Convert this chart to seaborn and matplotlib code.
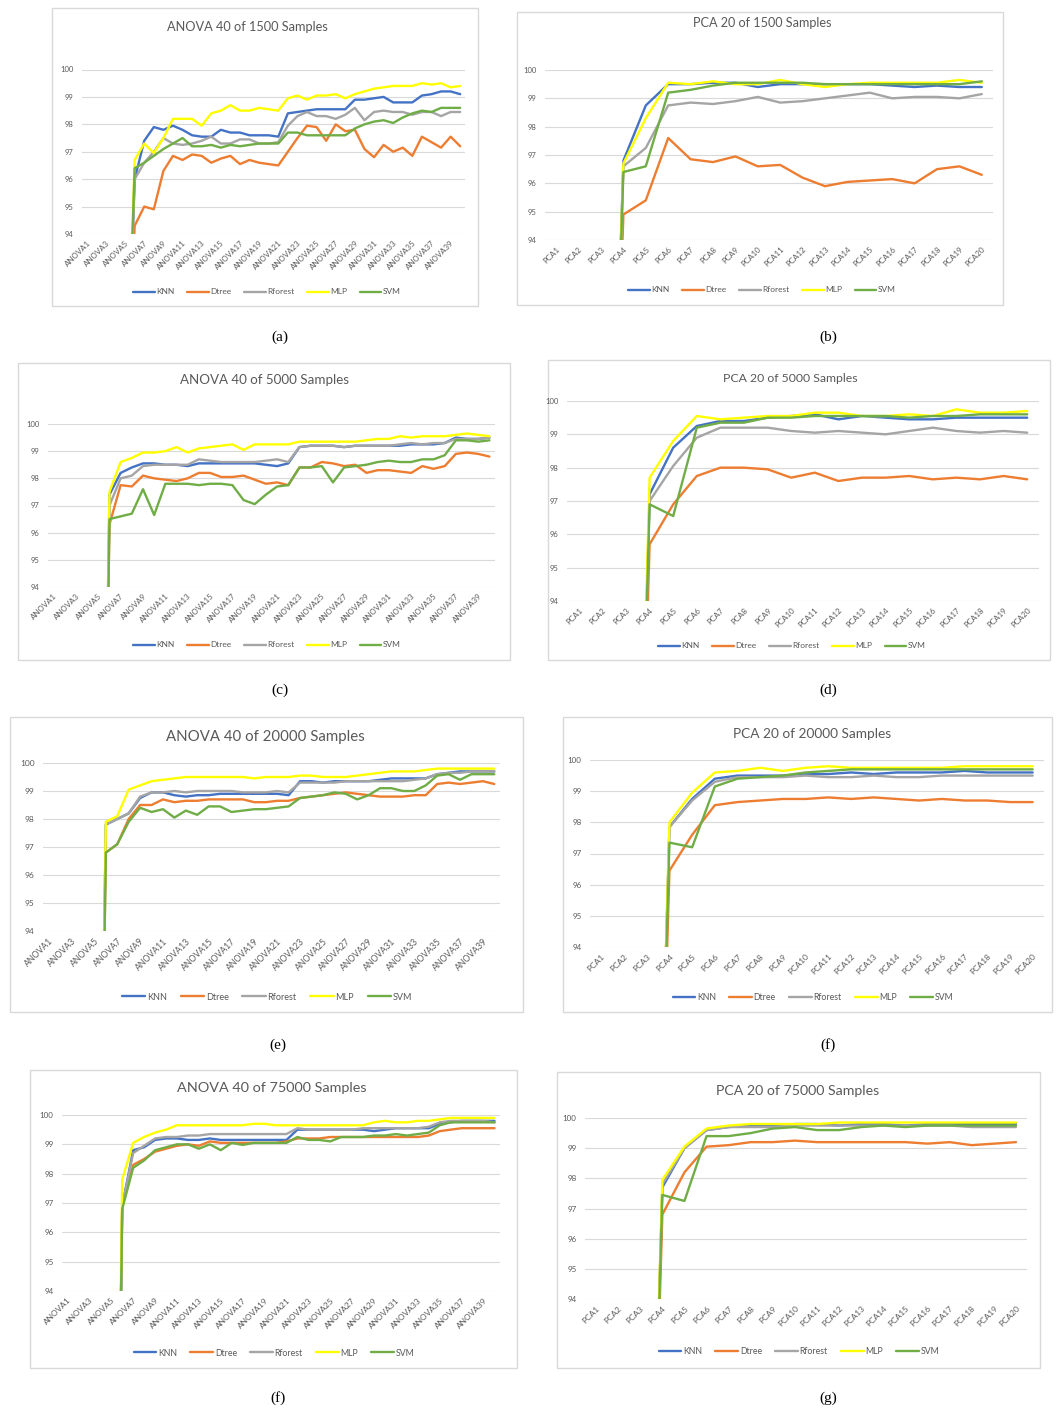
import matplotlib
matplotlib.use("Agg")
import matplotlib.pyplot as plt
import seaborn as sns
import pandas as pd
from matplotlib.patches import Rectangle

# ---------------- data ----------------
models = ["KNN", "Dtree", "Rforest", "MLP", "SVM"]
colors = ["#4472C4", "#ED7D31", "#A5A5A5", "#FFFF00", "#70AD47"]
anova_labels = ["ANOVA%d" % i for i in range(1, 41)]
pca_labels = ["PCA%d" % i for i in range(1, 21)]

# off-chart (below 94) values for the first features
a_low = [70.0, 74.0, 78.0, 82.0, 86.0]
anova_low = [50.0, 55.0, 60.0, 65.0, 70.0]
pca_low = [50.0, 60.0, 72.0]

# (a) ANOVA 40 of 1500
a_knn = a_low + [96.0, 97.4, 97.9, 97.8, 97.95, 97.8, 97.6, 97.55, 97.55, 97.8, 97.7, 97.7, 97.6, 97.6, 97.6, 97.55, 98.4, 98.45, 98.5, 98.55, 98.55, 98.55, 98.55, 98.9, 98.9, 98.95, 99.0, 98.8, 98.8, 98.8, 99.05, 99.1, 99.2, 99.2, 99.1]
a_dtree = a_low + [94.3, 95.0, 94.9, 96.3, 96.85, 96.7, 96.9, 96.85, 96.6, 96.75, 96.85, 96.55, 96.7, 96.6, 96.55, 96.5, 97.0, 97.5, 97.95, 97.9, 97.4, 98.0, 97.75, 97.8, 97.1, 96.8, 97.25, 97.0, 97.15, 96.85, 97.55, 97.35, 97.15, 97.55, 97.2]
a_rf = a_low + [96.0, 96.6, 97.0, 97.5, 97.3, 97.25, 97.3, 97.4, 97.55, 97.3, 97.3, 97.45, 97.45, 97.3, 97.3, 97.35, 97.95, 98.3, 98.45, 98.3, 98.3, 98.2, 98.35, 98.6, 98.15, 98.45, 98.5, 98.45, 98.45, 98.35, 98.45, 98.45, 98.3, 98.45, 98.45]
a_mlp = a_low + [96.7, 97.3, 96.95, 97.5, 98.2, 98.2, 98.2, 97.95, 98.4, 98.5, 98.7, 98.5, 98.5, 98.6, 98.55, 98.5, 98.95, 99.05, 98.9, 99.05, 99.05, 99.1, 98.95, 99.1, 99.2, 99.3, 99.35, 99.4, 99.4, 99.4, 99.5, 99.45, 99.5, 99.35, 99.4]
a_svm = a_low + [96.4, 96.6, 96.85, 97.1, 97.3, 97.5, 97.2, 97.2, 97.25, 97.15, 97.25, 97.2, 97.25, 97.3, 97.3, 97.3, 97.7, 97.7, 97.6, 97.6, 97.6, 97.6, 97.6, 97.85, 98.0, 98.1, 98.15, 98.05, 98.25, 98.4, 98.5, 98.45, 98.6, 98.6, 98.6]

# (b) PCA 20 of 1500
b_knn = pca_low + [96.8, 98.75, 99.5, 99.5, 99.55, 99.55, 99.4, 99.5, 99.5, 99.5, 99.5, 99.5, 99.45, 99.4, 99.45, 99.4, 99.4]
b_dtree = pca_low + [94.9, 95.4, 97.6, 96.85, 96.75, 96.95, 96.6, 96.65, 96.2, 95.9, 96.05, 96.1, 96.15, 96.0, 96.5, 96.6, 96.3]
b_rf = pca_low + [96.6, 97.25, 98.75, 98.85, 98.8, 98.9, 99.05, 98.85, 98.9, 99.0, 99.1, 99.2, 99.0, 99.05, 99.05, 99.0, 99.15]
b_mlp = pca_low + [96.7, 98.3, 99.55, 99.5, 99.6, 99.5, 99.5, 99.65, 99.5, 99.4, 99.5, 99.55, 99.55, 99.55, 99.55, 99.65, 99.55]
b_svm = pca_low + [96.4, 96.6, 99.2, 99.3, 99.45, 99.55, 99.55, 99.55, 99.55, 99.5, 99.5, 99.5, 99.5, 99.5, 99.5, 99.5, 99.6]

# (c) ANOVA 40 of 5000
c_knn = anova_low + [97.4, 98.2, 98.4, 98.55, 98.55, 98.5, 98.5, 98.45, 98.55, 98.55, 98.55, 98.55, 98.55, 98.55, 98.5, 98.45, 98.55, 99.15, 99.2, 99.2, 99.2, 99.15, 99.2, 99.2, 99.2, 99.2, 99.2, 99.25, 99.25, 99.25, 99.3, 99.5, 99.45, 99.45, 99.5]
c_dtree = anova_low + [96.3, 97.75, 97.7, 98.1, 98.0, 97.95, 97.9, 98.0, 98.2, 98.2, 98.05, 98.05, 98.1, 97.95, 97.8, 97.85, 97.75, 98.4, 98.4, 98.6, 98.55, 98.45, 98.5, 98.2, 98.3, 98.3, 98.25, 98.2, 98.45, 98.35, 98.45, 98.9, 98.95, 98.9, 98.8]
c_rf = anova_low + [97.0, 98.0, 98.1, 98.45, 98.5, 98.5, 98.5, 98.5, 98.7, 98.65, 98.6, 98.6, 98.6, 98.6, 98.65, 98.7, 98.6, 99.15, 99.2, 99.2, 99.2, 99.15, 99.2, 99.2, 99.2, 99.2, 99.25, 99.3, 99.25, 99.3, 99.3, 99.45, 99.45, 99.45, 99.5]
c_mlp = anova_low + [97.5, 98.6, 98.75, 98.95, 98.95, 99.0, 99.15, 98.95, 99.1, 99.15, 99.2, 99.25, 99.05, 99.25, 99.25, 99.25, 99.25, 99.35, 99.35, 99.35, 99.35, 99.35, 99.35, 99.4, 99.45, 99.45, 99.55, 99.5, 99.55, 99.55, 99.55, 99.6, 99.65, 99.6, 99.55]
c_svm = anova_low + [96.5, 96.6, 96.7, 97.6, 96.65, 97.8, 97.8, 97.8, 97.75, 97.8, 97.8, 97.75, 97.2, 97.05, 97.4, 97.7, 97.75, 98.4, 98.4, 98.45, 97.85, 98.4, 98.45, 98.5, 98.6, 98.65, 98.6, 98.6, 98.7, 98.7, 98.85, 99.4, 99.4, 99.35, 99.4]

# (d) PCA 20 of 5000
d_knn = pca_low + [97.2, 98.6, 99.25, 99.4, 99.4, 99.5, 99.55, 99.6, 99.45, 99.55, 99.5, 99.45, 99.45, 99.5, 99.5, 99.5, 99.5]
d_dtree = pca_low + [95.7, 96.9, 97.75, 98.0, 98.0, 97.95, 97.7, 97.85, 97.6, 97.7, 97.7, 97.75, 97.65, 97.7, 97.65, 97.75, 97.65]
d_rf = pca_low + [97.0, 98.05, 98.9, 99.2, 99.2, 99.2, 99.1, 99.05, 99.1, 99.05, 99.0, 99.1, 99.2, 99.1, 99.05, 99.1, 99.05]
d_mlp = pca_low + [97.7, 98.8, 99.55, 99.45, 99.5, 99.55, 99.55, 99.65, 99.65, 99.55, 99.55, 99.6, 99.55, 99.75, 99.65, 99.65, 99.7]
d_svm = pca_low + [96.9, 96.55, 99.2, 99.35, 99.35, 99.5, 99.5, 99.55, 99.55, 99.55, 99.55, 99.5, 99.55, 99.55, 99.6, 99.6, 99.6]

# (e) ANOVA 40 of 20000
e_knn = anova_low + [97.8, 98.0, 98.2, 98.75, 98.95, 98.95, 98.85, 98.8, 98.85, 98.85, 98.9, 98.9, 98.9, 98.9, 98.9, 98.9, 98.85, 99.35, 99.35, 99.3, 99.35, 99.35, 99.35, 99.35, 99.4, 99.45, 99.45, 99.45, 99.45, 99.6, 99.65, 99.7, 99.7, 99.7, 99.7]
e_dtree = anova_low + [96.8, 97.1, 98.0, 98.5, 98.5, 98.7, 98.6, 98.65, 98.65, 98.7, 98.7, 98.7, 98.7, 98.6, 98.6, 98.65, 98.65, 98.75, 98.8, 98.85, 98.9, 98.95, 98.9, 98.85, 98.8, 98.8, 98.8, 98.85, 98.85, 99.25, 99.3, 99.25, 99.3, 99.35, 99.25]
e_rf = anova_low + [97.8, 98.0, 98.2, 98.8, 98.95, 98.95, 99.0, 98.95, 99.0, 99.0, 99.0, 99.0, 98.95, 98.95, 98.95, 99.0, 98.95, 99.3, 99.3, 99.3, 99.3, 99.35, 99.35, 99.35, 99.35, 99.35, 99.35, 99.4, 99.45, 99.6, 99.65, 99.65, 99.7, 99.7, 99.7]
e_mlp = anova_low + [97.9, 98.1, 99.05, 99.2, 99.35, 99.4, 99.45, 99.5, 99.5, 99.5, 99.5, 99.5, 99.5, 99.45, 99.5, 99.5, 99.5, 99.55, 99.55, 99.5, 99.5, 99.5, 99.55, 99.6, 99.65, 99.7, 99.7, 99.7, 99.75, 99.8, 99.8, 99.8, 99.8, 99.8, 99.8]
e_svm = anova_low + [96.8, 97.1, 97.9, 98.4, 98.25, 98.35, 98.05, 98.3, 98.15, 98.45, 98.45, 98.25, 98.3, 98.35, 98.35, 98.4, 98.45, 98.75, 98.8, 98.85, 98.95, 98.9, 98.7, 98.85, 99.1, 99.1, 99.0, 99.0, 99.2, 99.55, 99.6, 99.4, 99.6, 99.6, 99.6]

# (f) PCA 20 of 20000
f_knn = pca_low + [97.85, 98.75, 99.4, 99.5, 99.5, 99.5, 99.55, 99.55, 99.6, 99.55, 99.6, 99.6, 99.6, 99.65, 99.6, 99.6, 99.6]
f_dtree = pca_low + [96.45, 97.6, 98.55, 98.65, 98.7, 98.75, 98.75, 98.8, 98.75, 98.8, 98.75, 98.7, 98.75, 98.7, 98.7, 98.65, 98.65]
f_rf = pca_low + [97.85, 98.7, 99.3, 99.45, 99.45, 99.45, 99.5, 99.45, 99.45, 99.5, 99.45, 99.45, 99.5, 99.5, 99.5, 99.5, 99.5]
f_mlp = pca_low + [98.0, 98.95, 99.6, 99.65, 99.75, 99.65, 99.75, 99.8, 99.75, 99.75, 99.75, 99.75, 99.75, 99.8, 99.8, 99.8, 99.8]
f_svm = pca_low + [97.35, 97.2, 99.15, 99.4, 99.45, 99.5, 99.6, 99.65, 99.7, 99.7, 99.7, 99.7, 99.7, 99.7, 99.7, 99.7, 99.7]

# (f, bottom) ANOVA 40 of 75000
h_knn = anova_low + [96.9, 98.8, 98.9, 99.15, 99.2, 99.2, 99.15, 99.15, 99.2, 99.15, 99.15, 99.15, 99.15, 99.15, 99.15, 99.15, 99.5, 99.5, 99.5, 99.5, 99.5, 99.5, 99.5, 99.45, 99.5, 99.55, 99.55, 99.55, 99.55, 99.7, 99.75, 99.8, 99.8, 99.8, 99.8]
h_dtree = anova_low + [96.9, 98.3, 98.5, 98.75, 98.85, 98.95, 99.0, 98.95, 99.1, 99.05, 99.05, 99.05, 99.05, 99.05, 99.05, 99.1, 99.2, 99.2, 99.2, 99.25, 99.25, 99.25, 99.25, 99.25, 99.25, 99.25, 99.25, 99.25, 99.3, 99.45, 99.5, 99.55, 99.55, 99.55, 99.55]
h_rf = anova_low + [96.9, 98.7, 98.95, 99.2, 99.25, 99.25, 99.3, 99.3, 99.35, 99.35, 99.35, 99.35, 99.35, 99.35, 99.35, 99.35, 99.55, 99.5, 99.5, 99.5, 99.5, 99.5, 99.55, 99.55, 99.55, 99.55, 99.55, 99.55, 99.6, 99.75, 99.8, 99.8, 99.8, 99.8, 99.75]
h_mlp = anova_low + [97.8, 99.05, 99.25, 99.4, 99.5, 99.65, 99.65, 99.65, 99.65, 99.65, 99.65, 99.65, 99.7, 99.7, 99.65, 99.65, 99.65, 99.65, 99.65, 99.65, 99.65, 99.65, 99.65, 99.75, 99.8, 99.75, 99.75, 99.8, 99.8, 99.85, 99.9, 99.9, 99.9, 99.9, 99.9]
h_svm = anova_low + [96.8, 98.2, 98.45, 98.8, 98.9, 99.0, 99.0, 98.85, 99.0, 98.8, 99.05, 98.98, 99.05, 99.05, 99.05, 99.05, 99.25, 99.15, 99.15, 99.1, 99.25, 99.25, 99.25, 99.3, 99.3, 99.35, 99.3, 99.35, 99.4, 99.65, 99.75, 99.75, 99.75, 99.75, 99.75]

# (g) PCA 20 of 75000
g_knn = pca_low + [97.7, 99.0, 99.6, 99.7, 99.75, 99.75, 99.8, 99.8, 99.75, 99.8, 99.8, 99.75, 99.8, 99.8, 99.8, 99.8, 99.8]
g_dtree = pca_low + [96.8, 98.2, 99.05, 99.1, 99.2, 99.2, 99.25, 99.2, 99.2, 99.2, 99.2, 99.2, 99.15, 99.2, 99.1, 99.15, 99.2]
g_rf = pca_low + [97.8, 99.0, 99.6, 99.7, 99.7, 99.7, 99.75, 99.75, 99.75, 99.75, 99.75, 99.75, 99.75, 99.75, 99.7, 99.7, 99.7]
g_mlp = pca_low + [97.95, 99.05, 99.65, 99.75, 99.8, 99.8, 99.8, 99.8, 99.85, 99.85, 99.85, 99.85, 99.85, 99.85, 99.85, 99.85, 99.85]
g_svm = pca_low + [97.45, 97.25, 99.4, 99.4, 99.5, 99.65, 99.7, 99.6, 99.6, 99.7, 99.75, 99.7, 99.75, 99.75, 99.75, 99.75, 99.75]

titles = ["ANOVA 40 of 1500 Samples", "PCA 20 of 1500 Samples",
          "ANOVA 40 of 5000 Samples", "PCA 20 of 5000 Samples",
          "ANOVA 40 of 20000 Samples", "PCA 20 of 20000 Samples",
          "ANOVA 40 of 75000 Samples", "PCA 20 of 75000 Samples"]
captions = ["(a)", "(b)", "(c)", "(d)", "(e)", "(f)", "(f)", "(g)"]

# ---------------- drawing ----------------
sns.set_style("white")
plt.rcParams["font.family"] = ["Lato", "DejaVu Sans"]

W, H = 1057, 1414
fig = plt.figure(figsize=(W / 100, H / 100), dpi=100)


def fx(x):
    return x / W


def fy(y):
    return 1 - y / H


GRAY = "#595959"


def panel(box, plot, title, tsize, title_xy, legend_xy, caption, cap_xy,
          labels, step, series, fs):
    x0, y0, x1, y1 = box
    fig.patches.append(Rectangle((fx(x0), fy(y1)), fx(x1) - fx(x0), fy(y0) - fy(y1),
                                 transform=fig.transFigure, facecolor="white",
                                 edgecolor="#D9D9D9", lw=1.0, zorder=-5))
    px0, px1, ytop, ybot = plot
    ax = fig.add_axes([fx(px0), fy(ybot), fx(px1) - fx(px0), fy(ytop) - fy(ybot)])
    ax.patch.set_alpha(0)
    df = pd.DataFrame({
        "feature": labels * len(models),
        "acc": [v for s in series for v in s],
        "model": [m for m in models for _ in labels],
    })
    sns.lineplot(data=df, x="feature", y="acc", hue="model", hue_order=models,
                 palette=colors, sort=False, estimator=None, linewidth=1.7, ax=ax)
    ax.set_ylim(94, 100)
    ax.set_xlim(-0.5, len(labels) - 0.5)
    ax.set_yticks(range(94, 101))
    ax.yaxis.grid(True, color="#D9D9D9", lw=0.8)
    ax.xaxis.grid(False)
    ax.set_axisbelow(True)
    for sp in ax.spines.values():
        sp.set_visible(False)
    ax.set_xticks(range(0, len(labels), step))
    ax.set_xticklabels(labels[::step], rotation=45, ha="right", rotation_mode="anchor")
    ax.tick_params(axis="x", length=0, colors=GRAY, labelsize=fs, pad=4)
    ax.tick_params(axis="y", length=0, colors=GRAY, labelsize=fs - 0.2, pad=6)
    ax.set_xlabel("")
    ax.set_ylabel("")
    handles, labs = ax.get_legend_handles_labels()
    if ax.get_legend() is not None:
        ax.get_legend().remove()
    fig.legend(handles, labs, loc="center", bbox_to_anchor=(fx(legend_xy[0]), fy(legend_xy[1])),
               ncol=5, frameon=False, fontsize=fs + 0.3, handlelength=2.6,
               handletextpad=0.2, columnspacing=1.5, labelcolor=GRAY)
    fig.text(fx(title_xy[0]), fy(title_xy[1]), title, ha="center", va="center",
             fontsize=tsize, color=GRAY)
    fig.text(fx(cap_xy[0]), fy(cap_xy[1]), caption, ha="center", va="center",
             fontsize=11, color="black", family="Liberation Serif")


panel((52, 8, 478, 306), (82, 465, 69.5, 234), titles[0], 9.2, (247, 27), (267, 292),
      captions[0], (280, 337), anova_labels, 2, [a_knn, a_dtree, a_rf, a_mlp, a_svm], 5.7)
panel((517, 12, 1003, 305), (545, 993, 70, 240), titles[1], 9.1, (762, 23), (762, 290),
      captions[1], (828, 337), pca_labels, 1, [b_knn, b_dtree, b_rf, b_mlp, b_svm], 5.7)
panel((18, 363, 510, 660), (48, 495, 424, 587), titles[2], 9.6, (265, 380), (267, 645),
      captions[2], (280, 690), anova_labels, 2, [c_knn, c_dtree, c_rf, c_mlp, c_svm], 5.7)
panel((548, 360, 1050, 660), (567, 1039, 401, 601), titles[3], 8.8, (790, 378), (792, 646),
      captions[3], (828, 690), pca_labels, 1, [d_knn, d_dtree, d_rf, d_mlp, d_svm], 5.7)
panel((10, 717, 523, 1012), (43, 500, 763, 931), titles[4], 10.8, (265, 737), (267, 997),
      captions[4], (278, 1045), anova_labels, 2, [e_knn, e_dtree, e_rf, e_mlp, e_svm], 6.2)
panel((563, 717, 1052, 1012), (590, 1044, 760, 947), titles[5], 9.8, (812, 734), (813, 998),
      captions[5], (828, 1045), pca_labels, 1, [f_knn, f_dtree, f_rf, f_mlp, f_svm], 6.0)
panel((30, 1070, 517, 1368), (62, 500, 1115, 1291), titles[6], 10.4, (272, 1088), (274, 1353),
      captions[6], (278, 1398), anova_labels, 2, [h_knn, h_dtree, h_rf, h_mlp, h_svm], 6.0)
panel((557, 1072, 1040, 1368), (585, 1027, 1118, 1299), titles[7], 10.2, (798, 1091), (799, 1352),
      captions[7], (828, 1398), pca_labels, 1, [g_knn, g_dtree, g_rf, g_mlp, g_svm], 6.0)

fig.savefig("out.png", dpi=100, facecolor="white")
